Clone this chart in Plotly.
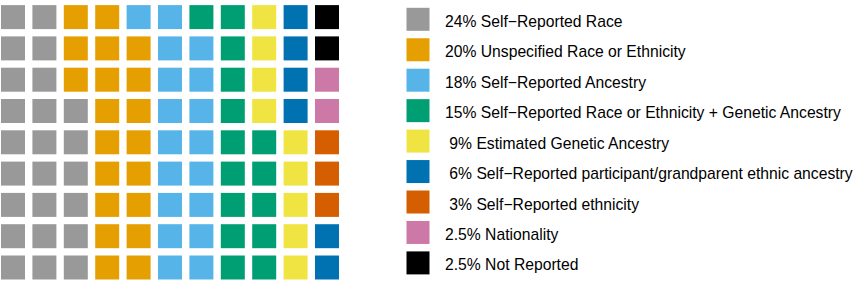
import plotly.graph_objects as go

# ---- data ----
legend_labels = [
    "24% Self\u2212Reported Race",
    "20% Unspecified Race or Ethnicity",
    "18% Self\u2212Reported Ancestry",
    "15% Self\u2212Reported Race or Ethnicity + Genetic Ancestry",
    "\u00a09% Estimated Genetic Ancestry",
    "\u00a06% Self\u2212Reported participant/grandparent ethnic ancestry",
    "\u00a03% Self\u2212Reported ethnicity",
    "2.5% Nationality",
    "2.5% Not Reported",
]
cell_counts = [24, 20, 18, 15, 9, 6, 3, 2, 2]
colors = ["#999999", "#E69F00", "#56B4E9", "#009E73", "#F0E442",
          "#0072B2", "#D55E00", "#CC79A7", "#000000"]
n_rows = 9

W, H = 858, 281
fig = go.Figure()

# ---- waffle grid (filled column by column, bottom to top) ----
k = 0
for label, cnt, col in zip(legend_labels, cell_counts, colors):
    xs, ys = [], []
    for _ in range(cnt):
        xs.append(k // n_rows)
        ys.append(k % n_rows)
        k += 1
    fig.add_trace(go.Scatter(
        x=xs, y=ys, mode="markers", name=label, showlegend=False,
        marker=dict(symbol="square", size=24, color=col, line=dict(width=0)),
        xaxis="x", yaxis="y", hoverinfo="name",
    ))

# ---- manual legend ----
idx = list(range(len(legend_labels)))
fig.add_trace(go.Scatter(
    x=[418] * len(idx), y=idx, mode="markers", showlegend=False,
    marker=dict(symbol="square", size=23, color=colors, line=dict(width=0)),
    xaxis="x2", yaxis="y2", hoverinfo="skip",
))
for i, lab in zip(idx, legend_labels):
    fig.add_annotation(
        x=443, y=i, xref="x2", yref="y2", text=lab, showarrow=False,
        xanchor="left", yanchor="middle", yshift=-2,
        font=dict(family="Liberation Sans, Arial, Helvetica, sans-serif", size=15.7, color="#000000"),
    )

pitch_x, pitch_y = 31.4, 31.3
gx0 = -13.0 / pitch_x
gy0 = -13.5 / pitch_y
lp = 30.45
ly0 = -19.3 / lp

ax_common = dict(visible=False, showgrid=False, zeroline=False, fixedrange=True)
fig.update_layout(
    width=W, height=H,
    margin=dict(l=0, r=0, t=0, b=0),
    paper_bgcolor="white", plot_bgcolor="white",
    xaxis=dict(domain=[0, 345 / W], range=[gx0, gx0 + 345 / pitch_x], **ax_common),
    yaxis=dict(domain=[0, 1], range=[gy0, gy0 + H / pitch_y], **ax_common),
    xaxis2=dict(domain=[390 / W, 1], range=[390, 858], anchor="y2", **ax_common),
    yaxis2=dict(domain=[0, 1], range=[ly0 + H / lp, ly0], anchor="x2", **ax_common),
)

fig.write_html(
    "out.html",
    config={"displayModeBar": False},
    post_script="document.body.style.margin='0';document.body.style.overflow='hidden';",
)
